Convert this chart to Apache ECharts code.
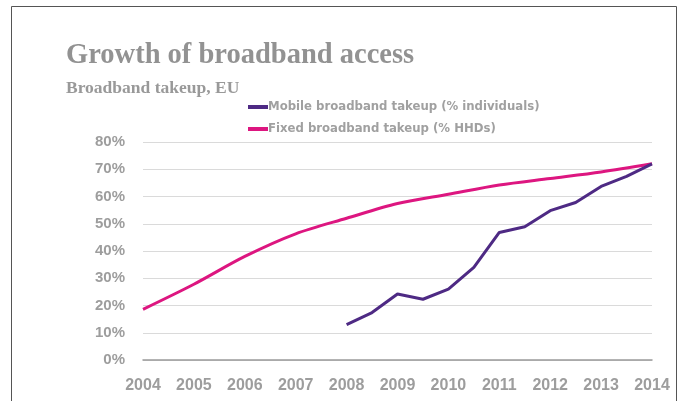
<!DOCTYPE html>
<html><head><meta charset="utf-8">
<script src="https://cdn.jsdelivr.net/npm/echarts@6/dist/echarts.min.js"></script>
<style>html,body{margin:0;padding:0;background:#fff}#c{width:683px;height:401px}</style>
</head><body><div id="c"></div>
<script>
const years = [2004, 2005, 2006, 2007, 2008, 2009, 2010, 2011, 2012, 2013, 2014];
const fixedValues = [18.6, 27.8, 38, 46.3, 52, 57.4, 60.8, 64.2, 66.6, 69, 72];
const mobileYears = [2008, 2008.5, 2009, 2009.5, 2010, 2010.5, 2011, 2011.5, 2012, 2012.5, 2013, 2013.5, 2014];
const mobileValues = [13, 17.4, 24.2, 22.3, 26, 34, 46.8, 48.9, 54.8, 57.8, 63.7, 67.4, 72];
const yTicks = [0, 10, 20, 30, 40, 50, 60, 70, 80];
const seriesNames = ['Mobile broadband takeup (% individuals)', 'Fixed broadband takeup (% HHDs)'];
const seriesColors = ['#4e2a84', '#dd1680'];

const chart = echarts.init(document.getElementById('c'), null, {renderer: 'canvas'});
const grey = '#9d9d9d';
const legendFont = 'bold 13px "Liberation Sans Narrow", "DejaVu Sans Condensed", "Liberation Sans", sans-serif';
const legendGraphic = seriesNames.map((name, i) => ({
  type: 'group', left: 248, top: 100 + i * 22, silent: true,
  children: [
    {type: 'rect', shape: {x: 0, y: 5.5, width: 20, height: 4}, style: {fill: seriesColors[i]}},
    {type: 'text', x: 20, y: 0.5, style: {text: name, font: legendFont, fill: '#a0a0a0', textVerticalAlign: 'top'}}
  ]
}));

chart.setOption({
  animation: false,
  backgroundColor: '#fff',
  graphic: [{
    type: 'rect', shape: {x: 11.5, y: 6.5, width: 665, height: 420},
    style: {fill: 'none', stroke: '#555', lineWidth: 1}, silent: true
  }].concat(legendGraphic),
  title: {
    text: 'Growth of broadband access',
    subtext: 'Broadband takeup, EU',
    left: 61, top: 36, itemGap: 9,
    textStyle: {fontFamily: 'Liberation Serif', fontWeight: 'bold', fontSize: 28.5, color: '#929292'},
    subtextStyle: {fontFamily: 'Liberation Serif', fontWeight: 'bold', fontSize: 17.5, color: '#999'}
  },
  grid: {left: 143, right: 31, top: 142, bottom: 41},
  xAxis: {
    type: 'value', min: 2004, max: 2014, interval: 1,
    axisLine: {show: true, lineStyle: {color: '#9a9a9a', width: 1.5}},
    axisTick: {show: false}, splitLine: {show: false},
    axisLabel: {formatter: v => String(v), margin: 18, fontFamily: 'Liberation Sans', fontWeight: 'bold', fontSize: 16, color: grey}
  },
  yAxis: {
    type: 'value', min: 0, max: 80, interval: 10,
    axisLine: {show: false}, axisTick: {show: false},
    splitLine: {lineStyle: {color: '#dadada', width: 1}},
    axisLabel: {formatter: v => yTicks.includes(v) ? v + '%' : '', margin: 18, fontFamily: 'Liberation Sans', fontWeight: 'bold', fontSize: 15, color: grey}
  },
  series: [
    {name: seriesNames[0], type: 'line', data: mobileYears.map((y, i) => [y, mobileValues[i]]),
     showSymbol: false, lineStyle: {width: 3, color: seriesColors[0]}, itemStyle: {color: seriesColors[0]}, z: 3},
    {name: seriesNames[1], type: 'line', smooth: 0.3, data: years.map((y, i) => [y, fixedValues[i]]),
     showSymbol: false, lineStyle: {width: 3, color: seriesColors[1]}, itemStyle: {color: seriesColors[1]}, z: 2}
  ]
});
</script></body></html>
